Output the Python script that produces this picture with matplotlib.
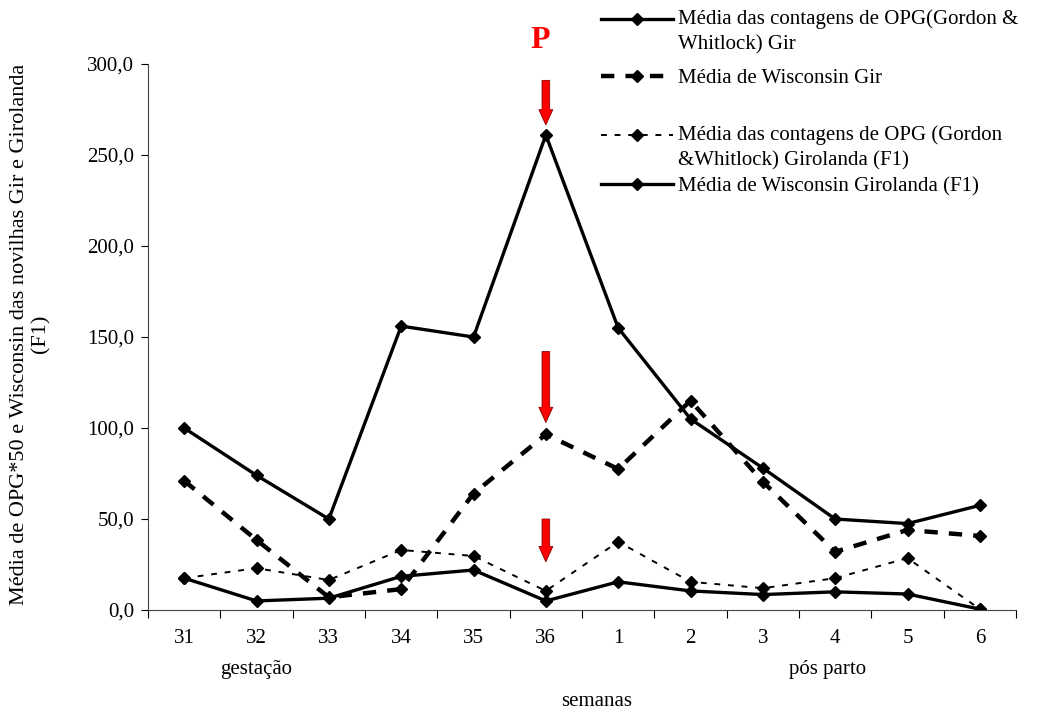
import matplotlib.pyplot as plt
from matplotlib.ticker import FuncFormatter

weeks = ["31", "32", "33", "34", "35", "36", "1", "2", "3", "4", "5", "6"]
opg_gir = [100, 74, 50, 156, 150, 261, 155, 105, 78, 50, 47.5, 57.5]
wisc_gir = [71, 38.5, 7, 11.5, 64, 96.5, 77.5, 115, 70.5, 32, 44, 40.7]
opg_girolanda = [17.5, 23, 16.5, 33, 29.7, 10.5, 37.5, 15.5, 12, 17.5, 28.5, 0.5]
wisc_girolanda = [17.5, 5, 6.5, 18.5, 22, 5, 15.5, 10.5, 8.5, 10, 8.8, 0.5]

labels = ["Média das contagens de OPG(Gordon &\nWhitlock) Gir",
          "Média de Wisconsin Gir",
          "Média das contagens de OPG (Gordon\n&Whitlock) Girolanda (F1)",
          "Média de Wisconsin Girolanda (F1)"]

# arrows at week 36 (start, tip)
arrows = [(291, 266.5), (142, 103), (50, 26.5)]

plt.rcParams['font.family'] = ['Liberation Serif', 'DejaVu Serif']
fs = 15

fig = plt.figure(figsize=(10.52, 7.11), dpi=100)
ax = fig.add_axes([0.1407, 0.142, 0.8251, 0.768])

x = list(range(len(weeks)))
l1, = ax.plot(x, opg_gir, color='black', lw=2.4, marker='D', ms=6, label=labels[0])
l2, = ax.plot(x, wisc_gir, color='black', lw=3.2, ls=(0, (3, 2.5)), marker='D', ms=6, label=labels[1])
l3, = ax.plot(x, opg_girolanda, color='black', lw=1.4, ls=(0, (3, 4)), marker='D', ms=6, label=labels[2])
l4, = ax.plot(x, wisc_girolanda, color='black', lw=2.4, marker='D', ms=6, label=labels[3])

for start, tip in arrows:
    ax.annotate('', xy=(5, tip), xytext=(5, start),
                arrowprops=dict(arrowstyle='simple,head_length=1.1,head_width=1.0,tail_width=0.55',
                                fc='red', ec='#8b0000', lw=0.6, shrinkA=0, shrinkB=0,
                                mutation_scale=10))
ax.text(4.92, 313, "P", color='red', fontsize=23, fontweight='bold',
        ha='center', va='center', clip_on=False)

ax.set_xlim(-0.5, len(weeks) - 0.5)
ax.set_ylim(0, 300)
ax.set_yticks(range(0, 301, 50))
ax.yaxis.set_major_formatter(FuncFormatter(lambda v, p: f"{v:.1f}".replace('.', ',')))
ax.set_xticks([i - 0.5 for i in range(len(weeks) + 1)])
ax.set_xticklabels([])
ax.set_xticks(x, minor=True)
ax.set_xticklabels(weeks, minor=True)
ax.tick_params(axis='x', which='minor', length=0, pad=14, labelsize=fs)
ax.tick_params(axis='x', which='major', length=6, direction='out')
ax.tick_params(axis='y', length=5, direction='out', labelsize=fs, pad=5)

for s in ['top', 'right']:
    ax.spines[s].set_visible(False)
for s in ['left', 'bottom']:
    ax.spines[s].set_color('#444444')

ax.text(1.0, -0.108, "gestação", transform=ax.get_xaxis_transform(), ha='center', va='center', fontsize=fs, clip_on=False)
ax.text(8.9, -0.108, "pós parto", transform=ax.get_xaxis_transform(), ha='center', va='center', fontsize=fs, clip_on=False)
fig.text(0.567, 1 - 701 / 711, "semanas", ha='center', va='center', fontsize=fs)
ax.set_ylabel("Média de OPG*50 e Wisconsin das novilhas Gir e Girolanda\n(F1)", fontsize=16)
ax.yaxis.set_label_coords(-0.112, 0.505)

leg1 = ax.legend(handles=[l1, l2], loc='upper left', bbox_to_anchor=(0.553, 1.013), bbox_transform=fig.transFigure,
                 frameon=False, fontsize=fs, handlelength=3.5, labelspacing=0.65, handletextpad=0.2)
ax.add_artist(leg1)
leg2 = ax.legend(handles=[l3, l4], loc='upper left', bbox_to_anchor=(0.553, 0.85), bbox_transform=fig.transFigure,
                 frameon=False, fontsize=fs, handlelength=3.5, labelspacing=0.3, handletextpad=0.2)
for leg in (leg1, leg2):
    for t in leg.get_texts():
        t.set_linespacing(1.45)
    # two-line entries: put the key beside the first line, as in the original
    h = leg.legend_handles[0]
    h.set_ydata([v + 9 for v in h.get_ydata()])

fig.savefig("out.png", dpi=100)
